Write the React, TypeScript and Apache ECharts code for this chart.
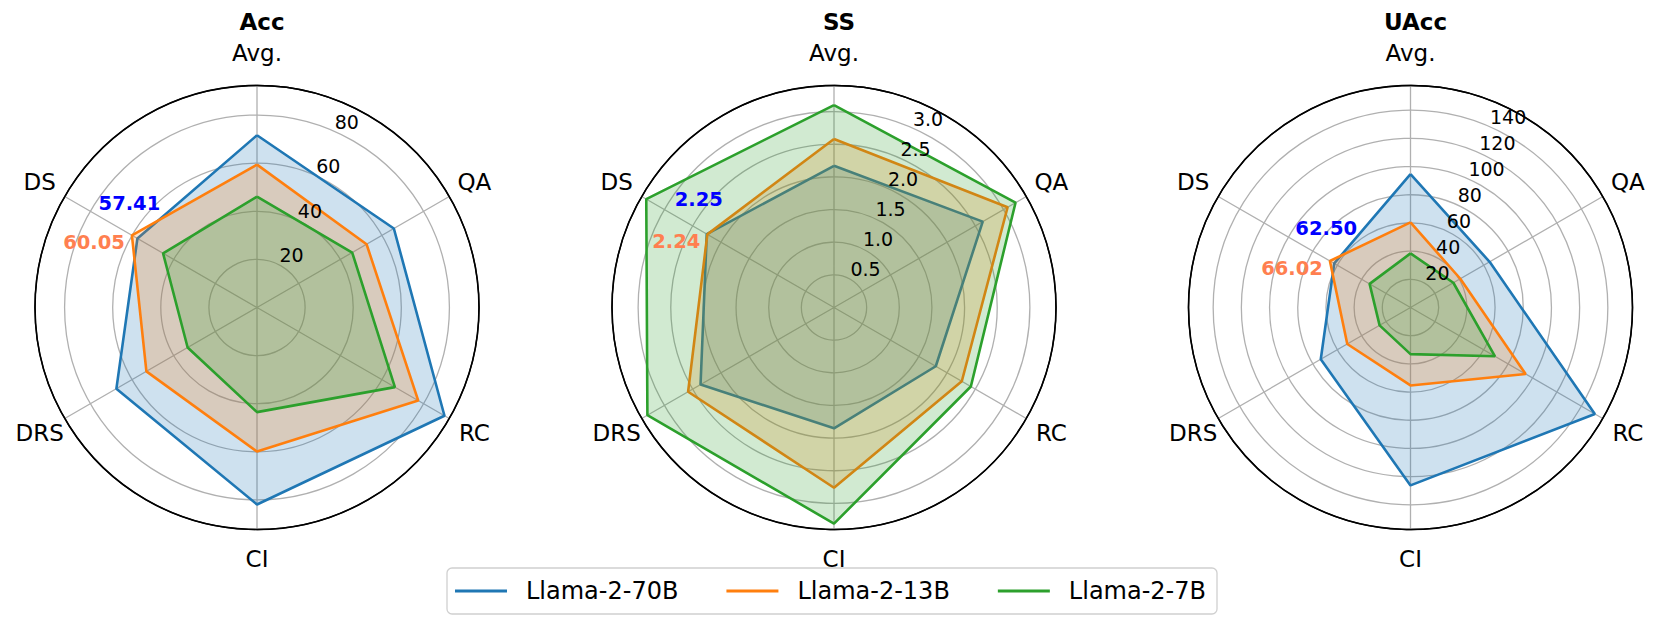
import React, { useEffect, useRef } from 'react';
import * as echarts from 'echarts';

const categories = ['Avg.', 'QA', 'RC', 'CI', 'DRS', 'DS'];
const models = ['Llama-2-70B', 'Llama-2-13B', 'Llama-2-7B'];
const modelColors = ['#1f77b4', '#ff7f0e', '#2ca02c'];
const panelTitles = ['Acc', 'SS', 'UAcc'];

const acc70B = [71.6, 65.7, 90.0, 81.9, 67.5, 57.41];
const acc13B = [59.4, 52.6, 77.4, 59.9, 53.1, 60.05];
const acc7B = [46.1, 45.7, 66.2, 43.5, 33.3, 45.1];

const ss70B = [2.17, 2.63, 1.8, 1.85, 2.36, 2.25];
const ss13B = [2.58, 3.07, 2.26, 2.76, 2.58, 2.24];
const ss7B = [3.1, 3.21, 2.42, 3.31, 3.3, 3.32];

const uacc70B = [94.6, 64.8, 151.0, 126.2, 73.5, 62.5];
const uacc13B = [60.4, 40.8, 94.3, 55.3, 51.8, 66.02];
const uacc7B = [38.4, 35.1, 69.2, 33.1, 25.3, 33.5];

const accTicks = [20, 40, 60, 80];
const ssTicks = [0.5, 1.0, 1.5, 2.0, 2.5, 3.0];
const uaccTicks = [20, 40, 60, 80, 100, 120, 140];

const radialMax = [92.3, 3.4, 157.5];
const tickStep = [20, 0.5, 20];
const tickDecimals = [0, 1, 0];

const panels = [
  { title: panelTitles[0], values: [acc70B, acc13B, acc7B], ticks: accTicks },
  { title: panelTitles[1], values: [ss70B, ss13B, ss7B], ticks: ssTicks },
  { title: panelTitles[2], values: [uacc70B, uacc13B, uacc7B], ticks: uaccTicks },
];

const centers: [number, number][] = [
  [257, 307.5],
  [834, 307.5],
  [1410.5, 307.5],
];
const RADIUS = 222;
const FONT = 'DejaVu Sans';
const STEP = 360 / categories.length;
const RLABEL_ANGLE = 22.5;
const CAT_PAD = 29;
const TOP_EXTRA = 3.5;

function buildOption() {
  const polar: any[] = [];
  const angleAxis: any[] = [];
  const radiusAxis: any[] = [];
  const series: any[] = [];
  const title: any[] = [];

  panels.forEach((p, i) => {
    polar.push({ center: centers[i], radius: RADIUS });
    title.push({
      text: p.title,
      left: centers[i][0],
      top: 5,
      textAlign: 'center',
      textStyle: { fontSize: 23, fontWeight: 'bold', color: '#000', fontFamily: FONT },
    });
    angleAxis.push({
      polarIndex: i,
      type: 'value',
      min: 0,
      max: 360,
      interval: STEP,
      startAngle: 90,
      clockwise: true,
      axisLine: { show: true, lineStyle: { color: '#000', width: 1.6 } },
      axisTick: { show: false },
      axisLabel: { show: false },
      splitLine: { show: true, lineStyle: { color: '#b0b0b0', width: 1.3 } },
    });
    const splitColors = ['#b0b0b0'];
    p.ticks.forEach(() => splitColors.push('#b0b0b0'));
    splitColors.push('#000000');
    radiusAxis.push({
      polarIndex: i,
      type: 'value',
      min: 0,
      max: radialMax[i],
      interval: tickStep[i],
      axisLine: { show: false },
      axisTick: { show: false },
      axisLabel: { show: false },
      splitLine: { show: true, lineStyle: { color: splitColors, width: 1.3 } },
    });

    p.values.forEach((vals, j) => {
      const data = vals.map((v, k) => [v, k * STEP]);
      data.push([vals[0], 360]);
      series.push({
        type: 'line',
        name: models[j],
        coordinateSystem: 'polar',
        polarIndex: i,
        data,
        symbol: 'none',
        silent: true,
        lineStyle: { color: modelColors[j], width: 2.6 },
        itemStyle: { color: modelColors[j] },
        areaStyle: { color: modelColors[j], opacity: 0.22 },
        z: 3 + j,
      });
    });

    // category labels, placed just outside the outer ring
    series.push({
      type: 'scatter',
      name: '_cats' + i,
      coordinateSystem: 'polar',
      polarIndex: i,
      symbolSize: 0,
      silent: true,
      clip: false,
      z: 8,
      itemStyle: { opacity: 1 },
      data: categories.map((c, k) => {
        const a = (k * STEP * Math.PI) / 180;
        const pad = k === 0 ? CAT_PAD + TOP_EXTRA : CAT_PAD;
        return {
          value: [radialMax[i], k * STEP],
          name: c,
          label: { offset: [pad * Math.sin(a), -pad * Math.cos(a)] },
        };
      }),
      label: {
        show: true,
        position: 'inside',
        fontSize: 23,
        color: '#000',
        opacity: 1,
        fontFamily: FONT,
        formatter: (q: any) => q.name,
      },
    });

    // radial tick labels
    series.push({
      type: 'scatter',
      name: '_ticks' + i,
      coordinateSystem: 'polar',
      polarIndex: i,
      data: p.ticks.map((t) => [t, RLABEL_ANGLE]),
      symbolSize: 0,
      silent: true,
      clip: false,
      z: 8,
      itemStyle: { opacity: 1 },
      label: {
        show: true,
        position: 'right',
        distance: 4,
        offset: [0, -8],
        fontSize: 19,
        color: '#000',
        opacity: 1,
        fontFamily: FONT,
        formatter: (q: any) => Number(q.value[0]).toFixed(tickDecimals[i]),
      },
    });

    const dsIdx = categories.indexOf('DS');
    series.push({
      type: 'scatter',
      name: '_ds70' + i,
      coordinateSystem: 'polar',
      polarIndex: i,
      data: [[p.values[0][dsIdx], dsIdx * STEP]],
      symbolSize: 0,
      silent: true,
      clip: false,
      z: 9,
      itemStyle: { opacity: 1 },
      label: {
        show: true,
        position: 'inside',
        offset: [-8, -35],
        fontSize: 19.5,
        fontWeight: 'bold',
        color: '#0000ff',
        opacity: 1,
        fontFamily: FONT,
        formatter: (q: any) => Number(q.value[0]).toFixed(2),
      },
    });
    series.push({
      type: 'scatter',
      name: '_ds13' + i,
      coordinateSystem: 'polar',
      polarIndex: i,
      data: [[p.values[1][dsIdx], dsIdx * STEP]],
      symbolSize: 0,
      silent: true,
      clip: false,
      z: 9,
      itemStyle: { opacity: 1 },
      label: {
        show: true,
        position: 'left',
        distance: 7,
        offset: [0, 7.5],
        fontSize: 19.5,
        fontWeight: 'bold',
        color: '#ff7f50',
        opacity: 1,
        fontFamily: FONT,
        formatter: (q: any) => Number(q.value[0]).toFixed(2),
      },
    });
  });

  return {
    animation: false,
    backgroundColor: '#ffffff',
    textStyle: { fontFamily: FONT },
    title,
    polar,
    angleAxis,
    radiusAxis,
    legend: {
      data: models,
      left: 'center',
      top: 568,
      orient: 'horizontal',
      icon: 'rect',
      itemWidth: 52,
      itemHeight: 3,
      itemGap: 48,
      padding: [11, 11, 11, 8],
      borderColor: '#d0d0d0',
      borderWidth: 1.3,
      borderRadius: 5,
      backgroundColor: '#ffffff',
      selectedMode: false,
      textStyle: { fontSize: 24, color: '#000', fontFamily: FONT, padding: [0, 0, 0, 14] },
    },
    series,
  };
}

export default function App() {
  const ref = useRef<HTMLDivElement>(null);
  useEffect(() => {
    if (!ref.current) return;
    const chart = echarts.init(ref.current, undefined, { renderer: 'svg' });
    chart.setOption(buildOption() as any);
    return () => chart.dispose();
  }, []);
  return (
    <div
      ref={ref}
      style={{ position: 'absolute', left: 0, top: 0, width: 1661, height: 624, background: '#fff' }}
    />
  );
}
